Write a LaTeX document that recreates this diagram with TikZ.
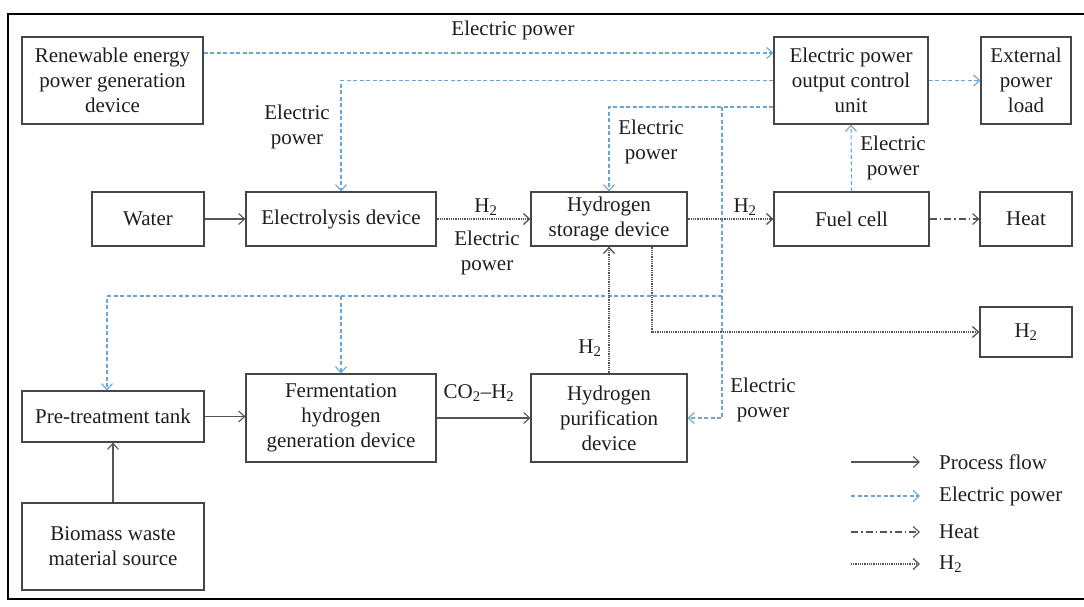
\documentclass[tikz,border=0pt]{standalone}
\usepackage{fontspec}
\setmainfont{Liberation Serif}
\usetikzlibrary{arrows.meta, positioning, calc}
\definecolor{boxgray}{RGB}{70, 70, 70}
\definecolor{flowgray}{RGB}{85, 85, 85}
\definecolor{powerblue}{RGB}{105, 165, 215}
\definecolor{textdark}{RGB}{30, 30, 30}

\begin{document}
\begin{tikzpicture}[x=1pt, y=-1pt,
  devbox/.style={draw=boxgray, line width=1.2pt, fill=white, align=center, text=textdark, font=\fontsize{21}{25}\selectfont, inner sep=2pt},
  lbl/.style={align=center, text=textdark, font=\fontsize{21}{25}\selectfont, inner sep=0pt},
  flow/.style={draw=flowgray, line width=1.1pt, -{Straight Barb[length=6pt, width=11pt]}},
  power/.style={draw=powerblue, line width=1.1pt, dash pattern=on 4pt off 2.5pt, -{Straight Barb[length=6pt, width=11pt]}},
  heatflow/.style={draw=flowgray, line width=1.1pt, dash pattern=on 7pt off 3pt on 1.5pt off 3pt, -{Straight Barb[length=6pt, width=11pt]}},
  hflow/.style={draw=flowgray, line width=1.3pt, dash pattern=on 1pt off 0.8pt, -{Straight Barb[length=6pt, width=11pt]}}]

  \useasboundingbox (0,0) rectangle (1084,607);
  \draw[line width=2pt] (1084,14) -- (8,14) -- (8,599) -- (1084,599);

  % Top row
  \node[devbox, minimum width=181, minimum height=87] (ren) at (112.5,80.5) {Renewable energy\\power generation\\device};
  \node[devbox, minimum width=154, minimum height=87] (ctrl) at (851,80.5) {Electric power\\output control\\unit};
  \node[devbox, minimum width=90, minimum height=87] (ext) at (1026,80.5) {External\\power\\load};

  % Electrolysis line
  \node[devbox, minimum width=112, minimum height=54] (water) at (148,219) {Water};
  \node[devbox, minimum width=190, minimum height=54] (elec) at (341,219) {Electrolysis device};
  \node[devbox, minimum width=156, minimum height=54] (stor) at (609,219) {Hydrogen\\storage device};
  \node[devbox, minimum width=155, minimum height=54] (fuel) at (851.5,219) {Fuel cell};
  \node[devbox, minimum width=92, minimum height=54] (heat) at (1026,219) {Heat};
  \node[devbox, minimum width=92, minimum height=50] (htwo) at (1026,332) {H\textsubscript{2}};

  % Fermentation line
  \node[devbox, minimum width=182, minimum height=51] (pre) at (113,416.5) {Pre-treatment tank};
  \node[devbox, minimum width=190, minimum height=88] (ferm) at (341,418) {Fermentation\\hydrogen\\generation device};
  \node[devbox, minimum width=156, minimum height=88] (pur) at (609,418) {Hydrogen\\purification\\device};
  \node[devbox, minimum width=182, minimum height=87] (bio) at (113,546.5) {Biomass waste\\material source};

  % Electric power
  \coordinate (tap) at (722,107);
  \coordinate (bus) at (722,296);
  \draw[power] ([yshift=27.5]ren.east) -- ([yshift=27.5]ctrl.west);
  \draw[power] (ctrl.west) -| (elec.north);
  \draw[power] (ctrl.east) -- (ext.west);
  \draw[power] (tap -| ctrl.west) -| (stor.north);
  \draw[power] (tap) |- (pur.east);
  \draw[power] (bus) -| ([xshift=-6]pre.north);
  \draw[power] (bus -| ferm.north) -- (ferm.north);
  \draw[power] (fuel.north) -- (ctrl.south);

  % Process flow, H2, heat
  \draw[flow] (water) -- (elec);
  \draw[hflow] (elec) -- (stor);
  \draw[hflow] (stor) -- (fuel);
  \draw[heatflow] (fuel) -- (heat);
  \draw[hflow] ([xshift=43]stor.south) |- (htwo.west);
  \draw[hflow] (pur) -- (stor);
  \draw[flow] (pre.east) -- (pre.east -| ferm.west);
  \draw[flow] (ferm) -- (pur);
  \draw[flow] (bio) -- (pre);

  % Labels
  \node[lbl] (lbtop) at (513,30) {Electric power};
  \node[lbl] (lbela) at (297,127) {Electric\\power};
  \node[lbl] (lbelb) at (651,142) {Electric\\power};
  \node[lbl] (lbelc) at (893,158) {Electric\\power};
  \node[lbl] (lbeld) at (487,253) {Electric\\power};
  \node[lbl] (lbele) at (763,400) {Electric\\power};
  \node[lbl] (lbha) at (486,207) {H\textsubscript{2}};
  \node[lbl] (lbhb) at (745,207) {H\textsubscript{2}};
  \node[lbl] (lbhc) at (590,348) {H\textsubscript{2}};
  \node[lbl] (lbco) at (479,393) {CO\textsubscript{2}--H\textsubscript{2}};

  % Legend
  \foreach \s/\t/\yy in {flow/{Process flow}/462, power/{Electric power}/496, heatflow/{Heat}/532, hflow/{H\textsubscript{2}}/564}{
    \node[lbl, anchor=west] (leg\s) at (939,\yy) {\t};
    \coordinate (legstart\s) at (851,\yy);
    \draw[\s] (legstart\s) -- ([xshift=-19]leg\s.west);
  }
\end{tikzpicture}
\end{document}
